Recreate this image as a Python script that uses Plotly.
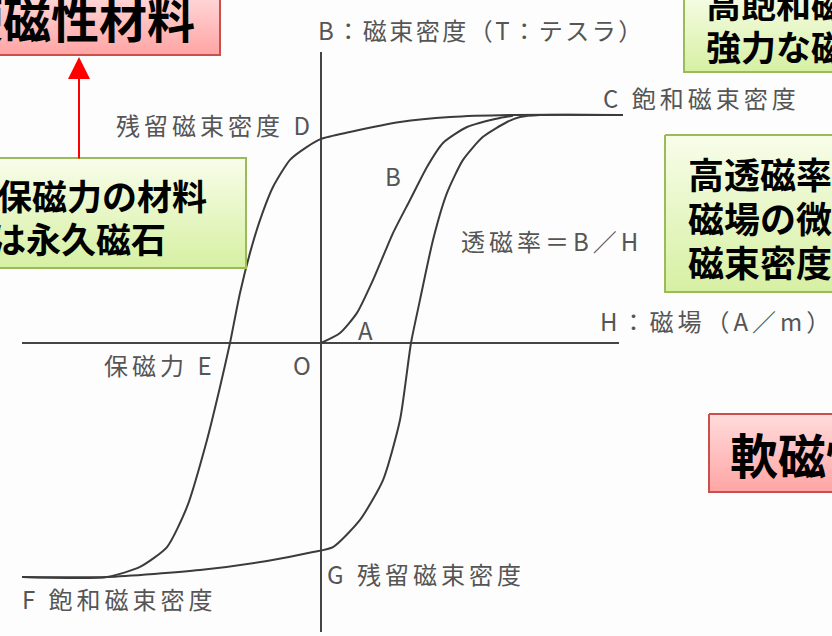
import plotly.graph_objects as go

# ---------------- data (H in arbitrary field units, B in tesla-like units) ----------------
desc_H = [3.02, 1.92, 1.29, 0.79, 0.29, 0.0, -0.14, -0.31, -0.48, -0.61, -0.71, -0.81,
          -0.89, -0.91, -1.01, -1.14, -1.34, -1.54, -1.81, -2.14, -2.99]
desc_B = [1.0, 1.0, 0.991, 0.969, 0.925, 0.895, 0.860, 0.803, 0.684, 0.539, 0.395, 0.219,
          0.044, 0.0, -0.193, -0.425, -0.719, -0.895, -0.982, -1.026, -1.026]

asc_H = [-2.99, -2.14, -1.21, -0.54, -0.08, 0.12, 0.39, 0.62, 0.79, 0.90, 0.99, 1.12,
         1.26, 1.42, 1.62, 1.86, 1.99, 2.19, 3.02]
asc_B = [-1.026, -1.026, -0.996, -0.956, -0.917, -0.895, -0.776, -0.601, -0.338, 0.0,
         0.189, 0.452, 0.658, 0.803, 0.904, 0.969, 0.991, 1.0, 1.0]

init_H = [0.0, 0.19, 0.36, 0.52, 0.72, 0.89, 1.06, 1.22, 1.46, 1.79, 1.92]
init_B = [0.0, 0.044, 0.132, 0.276, 0.482, 0.627, 0.772, 0.877, 0.947, 0.987, 0.996]

H_axis_extent = [-2.99, 2.98]
B_axis_extent = [-1.268, 1.276]

X_RANGE = [-3.21, 5.11]
Y_RANGE = [-1.285, 1.504]

W, HGT = 832, 636
CURVE = "#3b3b3b"
LABEL = "#555555"
JP = "Noto Sans CJK JP"

fig = go.Figure()

# axes lines
fig.add_trace(go.Scatter(x=H_axis_extent, y=[0, 0], mode="lines",
                         line=dict(color="#454545", width=2), hoverinfo="skip"))
fig.add_trace(go.Scatter(x=[0, 0], y=B_axis_extent, mode="lines",
                         line=dict(color="#454545", width=2), hoverinfo="skip"))
# hysteresis curves
for hx, by in [(desc_H, desc_B), (asc_H, asc_B), (init_H, init_B)]:
    fig.add_trace(go.Scatter(x=hx, y=by, mode="lines",
                             line=dict(color=CURVE, width=2, shape="spline", smoothing=0.6),
                             hoverinfo="skip"))

# ---------------- decorative boxes (pixel coordinates on overlay axes) ----------------
def box(x0, y0, x1, y1, top, bottom, border):
    fig.add_trace(go.Scatter(
        x=[x0, x1, x1, x0, x0], y=[y0, y0, y1, y1, y0], mode="lines",
        fill="toself", line=dict(color=border, width=2),
        fillgradient=dict(type="vertical", start=y0, stop=y1,
                          colorscale=[[0, top], [1, bottom]]),
        xaxis="x2", yaxis="y2", hoverinfo="skip"))

RED_T, RED_B, RED_L = "#ffdcdc", "#ffa4a4", "#c9504d"
GRN_T, GRN_B, GRN_L = "#f8fdea", "#d6f0a2", "#9bbb59"

box(-10, -10, 220, 55, RED_T, RED_B, RED_L)
box(-10, 158, 246, 268, GRN_T, GRN_B, GRN_L)
box(684, -10, 845, 72, GRN_T, GRN_B, GRN_L)
box(665, 135, 845, 292, GRN_T, GRN_B, GRN_L)
box(709, 414, 845, 492, RED_T, RED_B, RED_L)

annotations = []

def txt(x, y, s, size, color=LABEL, anchor="left", bold=False, ls=None):
    if ls is not None:
        s = f'<span style="letter-spacing:{ls}px">{s}</span>'
    if bold:
        s = f"<b>{s}</b>"
    annotations.append(dict(x=x, y=y, xref="x2", yref="y2", text=s, showarrow=False,
                            xanchor=anchor, yanchor="middle",
                            font=dict(family=JP, size=size, color=color)))

# gray diagram labels
txt(316, 29, "B：磁束密度（T：テスラ）", 24, ls=2.5)
txt(316, 124, "残留磁束密度 D", 24, anchor="right", ls=4)
txt(393, 175, "B", 24, anchor="center")
txt(365, 329, "A", 24, anchor="center")
txt(302, 364, "O", 24, anchor="center")
txt(218, 364, "保磁力 E", 24, anchor="right", ls=4)
txt(20, 598, "F 飽和磁束密度", 24, ls=4)
txt(325, 573, "G 残留磁束密度", 24, ls=4)
txt(601, 97, "C 飽和磁束密度", 24, ls=4)
txt(459, 240, "透磁率＝B／H", 24, ls=4)
txt(598, 320, "H：磁場（A／m）", 24, ls=4)

# bold box texts
txt(197, 17, "硬磁性材料", 48, color="#000000", anchor="right", bold=True)
txt(209, 194, "高保磁力の材料", 35, color="#000000", anchor="right", bold=True)
txt(168, 237, "例は永久磁石", 35, color="#000000", anchor="right", bold=True)
txt(704, 2, "高飽和磁束密度", 35, color="#000000", bold=True)
txt(704, 45, "強力な磁石", 35, color="#000000", bold=True)
txt(686, 173, "高透磁率：", 36, color="#000000", bold=True)
txt(686, 217, "磁場の微小変化で", 36, color="#000000", bold=True)
txt(686, 261, "磁束密度が大変化", 36, color="#000000", bold=True)
txt(728, 453, "軟磁性材料", 48, color="#000000", bold=True)

# red arrow
annotations.append(dict(x=79, y=57, xref="x2", yref="y2", ax=79, ay=160,
                        axref="x2", ayref="y2", text="", showarrow=True,
                        arrowhead=2, arrowsize=2.2, arrowwidth=2, arrowcolor="#ff0000"))

fig.update_layout(
    width=W, height=HGT, margin=dict(l=0, r=0, t=0, b=0),
    paper_bgcolor="#fdfdfd", plot_bgcolor="#fdfdfd", showlegend=False,
    xaxis=dict(range=X_RANGE, visible=False, fixedrange=True),
    yaxis=dict(range=Y_RANGE, visible=False, fixedrange=True),
    xaxis2=dict(range=[0, W], visible=False, overlaying="x", fixedrange=True),
    yaxis2=dict(range=[HGT, 0], visible=False, overlaying="y", fixedrange=True),
    annotations=annotations,
)

fig.write_html("out.html", config={"displayModeBar": False},
               post_script="document.body.style.margin='0';document.body.style.overflow='hidden';")
